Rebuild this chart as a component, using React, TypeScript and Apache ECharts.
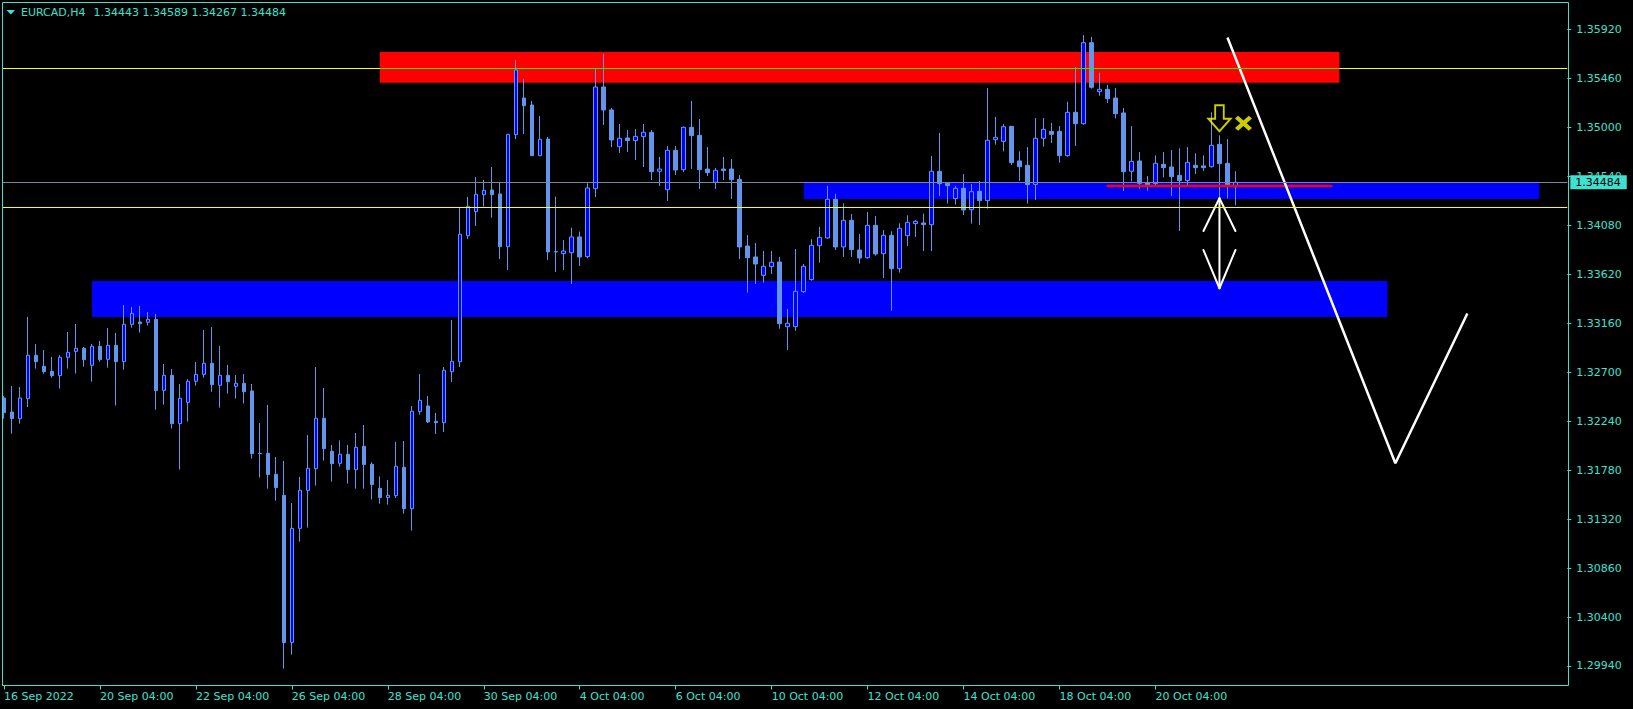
import React, { useEffect, useRef } from "react";
import * as echarts from "echarts";

// ---- data ----
const symbolTitle = "EURCAD,H4";
const headerValues = "1.34443 1.34589 1.34267 1.34484";

const opens = [
  1.32458, 1.32326, 1.32264, 1.32452, 1.32859, 1.32755, 1.32708, 1.32668, 1.32840, 1.32896,
  1.32925, 1.32765, 1.32943, 1.32821, 1.32953, 1.32799, 1.33150, 1.33172, 1.33169, 1.33197,
  1.32530, 1.32671, 1.32217, 1.32417, 1.32615, 1.32680, 1.32784, 1.32577, 1.32671, 1.32568,
  1.32596, 1.32524, 1.31938, 1.31938, 1.31741, 1.31543, 1.30162, 1.31233, 1.31590, 1.31794,
  1.32267, 1.31957, 1.31844, 1.31929, 1.31785, 1.32004, 1.31835, 1.31609, 1.31522, 1.31540,
  1.31807, 1.31418, 1.32330, 1.32383, 1.32239, 1.32226, 1.32705, 1.32799, 1.33983, 1.34209,
  1.34368, 1.34412, 1.34375, 1.33880, 1.34932, 1.35276, 1.35211, 1.34735, 1.34891, 1.33833,
  1.33814, 1.33823, 1.33971, 1.33786, 1.34425, 1.35380, 1.35164, 1.34819, 1.34901, 1.34876,
  1.34913, 1.34954, 1.34588, 1.34415, 1.34785, 1.34603, 1.35001, 1.34926, 1.34609, 1.34484,
  1.34609, 1.34609, 1.34512, 1.33886, 1.33783, 1.33610, 1.33692, 1.33736, 1.33128, 1.33128,
  1.33457, 1.33570, 1.33889, 1.33961, 1.34324, 1.33877, 1.34127, 1.33848, 1.33776, 1.34080,
  1.33814, 1.33986, 1.33673, 1.33983, 1.34096, 1.34102, 1.34086, 1.34588, 1.34475, 1.34331,
  1.34428, 1.34227, 1.34400, 1.34312, 1.34885, 1.34869, 1.35010, 1.34685, 1.34644, 1.34465,
  1.34898, 1.34963, 1.34963, 1.34735, 1.35142, 1.35035, 1.35796, 1.35336, 1.35358, 1.35276,
  1.35136, 1.34588, 1.34685, 1.34478, 1.34472, 1.34653, 1.34628, 1.34550, 1.34500, 1.34644,
  1.34638, 1.34631, 1.34841, 1.34663, 1.34443,
];
const closes = [
  1.32320, 1.32264, 1.32458, 1.32859, 1.32799, 1.32705, 1.32668, 1.32840, 1.32887, 1.32925,
  1.32818, 1.32943, 1.32818, 1.32953, 1.32799, 1.33150, 1.33253, 1.33156, 1.33197, 1.32527,
  1.32671, 1.32217, 1.32455, 1.32615, 1.32680, 1.32784, 1.32583, 1.32671, 1.32611, 1.32596,
  1.32517, 1.31935, 1.31935, 1.31738, 1.31616, 1.30159, 1.31233, 1.31590, 1.31797, 1.32267,
  1.31982, 1.31841, 1.31929, 1.31785, 1.31994, 1.31832, 1.31644, 1.31522, 1.31543, 1.31816,
  1.31418, 1.32333, 1.32436, 1.32233, 1.32226, 1.32718, 1.32802, 1.33996, 1.34259, 1.34371,
  1.34409, 1.34368, 1.33880, 1.34935, 1.35540, 1.35204, 1.34735, 1.34888, 1.33830, 1.33830,
  1.33839, 1.33971, 1.33783, 1.34431, 1.35380, 1.35164, 1.34882, 1.34898, 1.34876, 1.34916,
  1.34954, 1.34584, 1.34609, 1.34785, 1.34600, 1.35001, 1.34923, 1.34603, 1.34575, 1.34597,
  1.34594, 1.34509, 1.33877, 1.33776, 1.33717, 1.33695, 1.33733, 1.33156, 1.33160, 1.33460,
  1.33695, 1.33892, 1.33967, 1.34324, 1.33877, 1.34127, 1.33852, 1.33773, 1.34080, 1.33811,
  1.33986, 1.33673, 1.34052, 1.34108, 1.34118, 1.34086, 1.34588, 1.34472, 1.34453, 1.34428,
  1.34224, 1.34396, 1.34312, 1.34879, 1.34907, 1.35007, 1.34669, 1.34631, 1.34462, 1.34898,
  1.34982, 1.34935, 1.34735, 1.35142, 1.35035, 1.35796, 1.35377, 1.35358, 1.35270, 1.35129,
  1.34584, 1.34681, 1.34475, 1.34462, 1.34663, 1.34622, 1.34537, 1.34500, 1.34672, 1.34622,
  1.34622, 1.34832, 1.34660, 1.34459, 1.34484,
];
const lows = [
  1.32264, 1.32123, 1.32217, 1.32373, 1.32734, 1.32687, 1.32649, 1.32546, 1.32734, 1.32687,
  1.32752, 1.32611, 1.32799, 1.32743, 1.32386, 1.32724, 1.33119, 1.33072, 1.33138, 1.32348,
  1.32395, 1.32170, 1.31785, 1.32236, 1.32574, 1.32649, 1.32517, 1.32367, 1.32499, 1.32452,
  1.32405, 1.31888, 1.31710, 1.31606, 1.31493, 1.29915, 1.30047, 1.31108, 1.31240, 1.31634,
  1.31869, 1.31672, 1.31813, 1.31653, 1.31606, 1.31606, 1.31503, 1.31465, 1.31456, 1.31518,
  1.31371, 1.31212, 1.32301, 1.32223, 1.32120, 1.32139, 1.32608, 1.32749, 1.33952, 1.34074,
  1.34256, 1.34152, 1.33764, 1.33661, 1.34891, 1.34938, 1.34730, 1.34730, 1.33755, 1.33642,
  1.33661, 1.33529, 1.33698, 1.33770, 1.34346, 1.35023, 1.34816, 1.34760, 1.34769, 1.34694,
  1.34628, 1.34506, 1.34450, 1.34309, 1.34553, 1.34581, 1.34609, 1.34422, 1.34544, 1.34422,
  1.34506, 1.34328, 1.33764, 1.33448, 1.33529, 1.33542, 1.33623, 1.33109, 1.32909, 1.33088,
  1.33445, 1.33560, 1.33729, 1.33955, 1.33848, 1.33783, 1.33783, 1.33720, 1.33767, 1.33795,
  1.33585, 1.33278, 1.33636, 1.33886, 1.33971, 1.33839, 1.33839, 1.34356, 1.34284, 1.34274,
  1.34177, 1.34096, 1.34083, 1.34237, 1.34838, 1.34775, 1.34647, 1.34497, 1.34284, 1.34318,
  1.34819, 1.34854, 1.34669, 1.34725, 1.34826, 1.35026, 1.35364, 1.35298, 1.35230, 1.35085,
  1.34403, 1.34494, 1.34425, 1.34406, 1.34459, 1.34531, 1.34356, 1.34027, 1.34450, 1.34562,
  1.34591, 1.34622, 1.34331, 1.34334, 1.34267,
];
const highs = [
  1.32477, 1.32571, 1.32561, 1.33219, 1.32965, 1.32909, 1.32843, 1.32862, 1.33078, 1.33153,
  1.32937, 1.32965, 1.32993, 1.33116, 1.33069, 1.33332, 1.33313, 1.33322, 1.33266, 1.33247,
  1.32777, 1.32730, 1.32590, 1.32636, 1.32796, 1.33097, 1.33125, 1.32947, 1.32768, 1.32674,
  1.32683, 1.32590, 1.32223, 1.32392, 1.31904, 1.31866, 1.31471, 1.31716, 1.32110, 1.32749,
  1.32552, 1.32016, 1.32060, 1.32016, 1.32129, 1.32204, 1.31854, 1.31722, 1.31688, 1.32045,
  1.32054, 1.32383, 1.32683, 1.32477, 1.32317, 1.32749, 1.33191, 1.34243, 1.34346, 1.34534,
  1.34506, 1.34628, 1.34478, 1.34940, 1.35634, 1.35455, 1.35248, 1.35107, 1.34910, 1.34350,
  1.33942, 1.34058, 1.34021, 1.34475, 1.35558, 1.35690, 1.35183, 1.35032, 1.34976, 1.34985,
  1.35032, 1.34976, 1.34722, 1.34826, 1.34826, 1.35010, 1.35248, 1.35079, 1.34816, 1.34619,
  1.34722, 1.34703, 1.34553, 1.33989, 1.33914, 1.33839, 1.33839, 1.33783, 1.33294, 1.33858,
  1.33717, 1.33949, 1.34065, 1.34450, 1.34375, 1.34287, 1.34187, 1.33999, 1.34205, 1.34168,
  1.34036, 1.34024, 1.34099, 1.34174, 1.34130, 1.34190, 1.34732, 1.34948, 1.34481, 1.34450,
  1.34562, 1.34468, 1.34497, 1.35370, 1.35098, 1.35032, 1.35013, 1.34775, 1.34816, 1.35089,
  1.35089, 1.35042, 1.35013, 1.35242, 1.35568, 1.35868, 1.35850, 1.35514, 1.35399, 1.35370,
  1.35183, 1.35013, 1.34769, 1.34544, 1.34738, 1.34769, 1.34788, 1.34804, 1.34816, 1.34757,
  1.34738, 1.35142, 1.34926, 1.34891, 1.34589,
];

const totalSlots = 196; // bars + empty shift area on the right
const xTickLabels = [
  "16 Sep 2022", "20 Sep 04:00", "22 Sep 04:00", "26 Sep 04:00", "28 Sep 04:00",
  "30 Sep 04:00", "4 Oct 04:00", "6 Oct 04:00", "10 Oct 04:00", "12 Oct 04:00",
  "14 Oct 04:00", "18 Oct 04:00", "20 Oct 04:00",
];
const barsPerLabel = 12;
const yTicks = [
  1.2994, 1.304, 1.3086, 1.3132, 1.3178, 1.3224, 1.327, 1.3316, 1.3362, 1.3408, 1.3454,
  1.35, 1.3546, 1.3592,
];
const yMin = 1.297566;
const yMax = 1.361737;

const bidPrice = 1.34484;
const yellowLevels = [1.35558, 1.3425];

// zones: [startBar, endBar, top, bottom]
const redZone = [47, 167, 1.35709, 1.3542];
const blueZoneUpper = [100, 192, 1.34478, 1.34328];
const blueZoneLower = [11, 173, 1.33557, 1.33219];
const redSegment = [138, 166, 1.3445];
const zigzag = [
  [153, 1.35845],
  [174, 1.31844],
  [183, 1.33252],
];
const doubleArrow = { bar: 152, top: 1.34334, bottom: 1.33489, topWing: 1.34027, bottomWing: 1.33848, spread: 2 };
const sellArrow = [152, 1.35086];
const crossMark = [155, 1.35039];

const FG = "#40e0d0";
const FONT = "DejaVu Sans";

export default function App() {
  const ref = useRef<HTMLDivElement>(null);
  useEffect(() => {
    if (!ref.current) return;
    const chart = echarts.init(ref.current, undefined, { renderer: "svg" });
    const categories = Array.from({ length: totalSlots }, (_, i) => String(i));
    const candles = opens.map((o, i) => [o, closes[i], lows[i], highs[i]]);
    const zone = (z: number[], color: string) => [
      { xAxis: z[0], yAxis: z[2], itemStyle: { color } },
      { xAxis: z[1], yAxis: z[3] },
    ];
    const seg = (a: number[], b: number[], color: string, width: number, z: number) => ({
      type: "line",
      data: [a, b],
      showSymbol: false,
      symbol: "none",
      silent: true,
      z,
      lineStyle: { color, width, cap: "round" },
    });
    const da = doubleArrow;
    const option: any = {
      animation: false,
      backgroundColor: "#000000",
      grid: { left: -0.7, top: 2.5, width: 1568, height: 683 },
      xAxis: {
        type: "category",
        data: categories,
        boundaryGap: true,
        axisLine: { show: true, lineStyle: { color: FG, width: 1 } },
        axisTick: {
          show: true,
          alignWithLabel: true,
          length: 4,
          lineStyle: { color: FG },
          interval: (idx: number) => idx % barsPerLabel === 0 && idx / barsPerLabel < xTickLabels.length,
        },
        axisLabel: {
          interval: (idx: number) => idx % barsPerLabel === 0 && idx / barsPerLabel < xTickLabels.length,
          formatter: (_v: string, idx: number) =>
            idx % barsPerLabel === 0 && idx / barsPerLabel < xTickLabels.length ? xTickLabels[idx / barsPerLabel] : "",
          color: FG,
          fontFamily: FONT,
          fontSize: 11,
          align: "left",
          margin: 5,
        },
        splitLine: { show: false },
      },
      yAxis: {
        type: "value",
        position: "right",
        min: yMin,
        max: yMax,
        scale: true,
        axisLine: { show: false },
        splitLine: { show: false },
        axisTick: { show: true, length: 4, lineStyle: { color: FG }, customValues: yTicks },
        axisLabel: {
          customValues: yTicks,
          formatter: (v: number) => v.toFixed(5),
          color: FG,
          fontFamily: FONT,
          fontSize: 11,
          margin: 9,
        },
      },
      graphic: [
        { type: "rect", z: 100, shape: { x: 0, y: 0, width: 2, height: 709 }, style: { fill: "#000" } },
        {
          type: "rect",
          z: 101,
          shape: { x: 2.5, y: 2.5, width: 1566, height: 683 },
          style: { fill: "none", stroke: FG, lineWidth: 1 },
        },
        {
          type: "polygon",
          z: 101,
          shape: { points: [[6.5, 10], [15, 10], [10.75, 14.5]] },
          style: { fill: FG },
        },
        {
          type: "text",
          z: 101,
          x: 21,
          y: 12.5,
          style: { text: symbolTitle, fill: FG, font: `11px "${FONT}"`, textVerticalAlign: "middle" },
        },
        {
          type: "text",
          z: 101,
          x: 93.5,
          y: 12.5,
          style: { text: headerValues, fill: FG, font: `11px "${FONT}"`, textVerticalAlign: "middle" },
        },
      ],
      series: [
        {
          type: "line",
          data: [],
          z: 1,
          silent: true,
          markArea: {
            silent: true,
            itemStyle: { opacity: 1 },
            data: [zone(redZone, "#ff0000"), zone(blueZoneUpper, "#0000ff"), zone(blueZoneLower, "#0000ff")],
          },
        },
        {
          type: "line",
          data: [],
          z: 1.5,
          silent: true,
          markLine: {
            silent: true,
            precision: 5,
            symbol: ["none", "none"],
            label: { show: false },
            data: [
              { yAxis: yellowLevels[0], lineStyle: { color: "#ffff00", width: 1, type: "solid" } },
              { yAxis: yellowLevels[1], lineStyle: { color: "#ffff00", width: 1, type: "solid" } },
              [
                { coord: [redZone[0], yellowLevels[0]], lineStyle: { color: "#00ff00", width: 1, type: "solid" } },
                { coord: [redZone[1], yellowLevels[0]] },
              ],
              {
                yAxis: bidPrice,
                lineStyle: { color: "#778899", width: 1, type: "solid" },
                label: {
                  show: true,
                  position: "end",
                  distance: 3,
                  formatter: bidPrice.toFixed(5),
                  color: "#000000",
                  backgroundColor: FG,
                  fontFamily: FONT,
                  fontSize: 11,
                  lineHeight: 13,
                  padding: [1, 6, 0, 5],
                },
              },
            ],
          },
        },
        {
          type: "candlestick",
          data: candles,
          z: 2,
          barWidth: 4,
          silent: true,
          itemStyle: {
            color: "#0000ff",
            color0: "#6495ed",
            borderColor: "#6495ed",
            borderColor0: "#6495ed",
            borderWidth: 1,
          },
        },
        seg([redSegment[0], redSegment[2]], [redSegment[1], redSegment[2]], "#ff0000", 2.5, 3),
        {
          type: "line",
          data: zigzag,
          showSymbol: false,
          symbol: "none",
          silent: true,
          z: 3,
          lineStyle: { color: "#ffffff", width: 2.5 },
        },
        seg([da.bar, da.top], [da.bar, da.bottom], "#ffffff", 2, 3),
        seg([da.bar - da.spread, da.topWing], [da.bar, da.top], "#ffffff", 2, 3),
        seg([da.bar + da.spread, da.topWing], [da.bar, da.top], "#ffffff", 2, 3),
        seg([da.bar - da.spread, da.bottomWing], [da.bar, da.bottom], "#ffffff", 2, 3),
        seg([da.bar + da.spread, da.bottomWing], [da.bar, da.bottom], "#ffffff", 2, 3),
        {
          type: "scatter",
          z: 4,
          silent: true,
          data: [sellArrow],
          symbol: "path://M7,0 L16,0 L16,14 L23,14 L11.5,27 L0,14 L7,14 Z",
          symbolSize: [22, 26],
          itemStyle: { color: "rgba(0,0,0,0)", borderColor: "#ffff00", borderWidth: 2 },
        },
        {
          type: "scatter",
          z: 4,
          silent: true,
          data: [crossMark],
          symbol: "path://M0,3 L3,0 L8,5 L13,0 L16,3 L11,8 L16,13 L13,16 L8,11 L3,16 L0,13 L5,8 Z",
          symbolSize: [17, 15],
          itemStyle: { color: "#ffff00" },
        },
      ],
    };
    chart.setOption(option);
    return () => chart.dispose();
  }, []);
  return (
    <div
      ref={ref}
      style={{ position: "fixed", left: 0, top: 0, width: 1633, height: 709, background: "#000" }}
    />
  );
}
